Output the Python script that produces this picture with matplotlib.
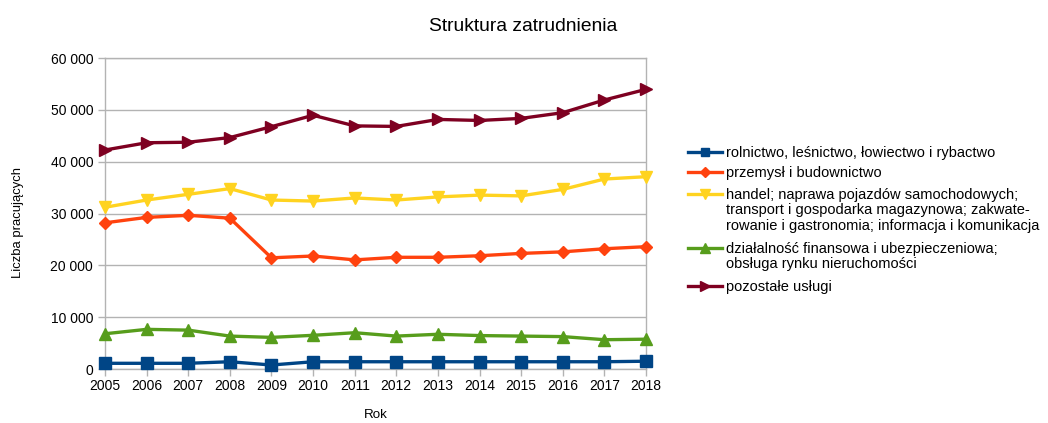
import matplotlib
matplotlib.use("Agg")
import matplotlib.pyplot as plt
from matplotlib.lines import Line2D
from matplotlib.ticker import FuncFormatter, MultipleLocator

plt.rcParams['font.family'] = ['Liberation Sans', 'DejaVu Sans']

years = [2005, 2006, 2007, 2008, 2009, 2010, 2011, 2012, 2013, 2014, 2015, 2016, 2017, 2018]

rolnictwo = [1100, 1100, 1100, 1400, 770, 1400, 1400, 1400, 1400, 1400, 1400, 1400, 1400, 1500]
przemysl = [28200, 29250, 29650, 29100, 21450, 21800, 21050, 21550, 21550, 21850, 22300, 22600, 23200, 23600]
handel = [31200, 32600, 33700, 34800, 32600, 32400, 33000, 32600, 33200, 33550, 33400, 34650, 36650, 37100]
finanse = [6800, 7650, 7500, 6350, 6100, 6500, 7000, 6350, 6700, 6450, 6350, 6250, 5650, 5750]
pozostale = [42250, 43650, 43750, 44650, 46750, 48950, 46900, 46800, 48150, 47950, 48350, 49450, 51900, 53950]

labels = [
    "rolnictwo, leśnictwo, łowiectwo i rybactwo",
    "przemysł i budownictwo",
    "handel; naprawa pojazdów samochodowych;\ntransport i gospodarka magazynowa; zakwate-\nrowanie i gastronomia; informacja i komunikacja",
    "działalność finansowa i ubezpieczeniowa;\nobsługa rynku nieruchomości",
    "pozostałe usługi",
]
series = [rolnictwo, przemysl, handel, finanse, pozostale]
colors = ["#004586", "#ff420e", "#ffd320", "#579d1c", "#7e0021"]
markers = ["s", "D", "v", "^", ">"]
msizes = [8, 6.5, 9, 9, 9]

W, H = 1048, 423
fig = plt.figure(figsize=(W / 100, H / 100), dpi=100)
ax = fig.add_axes([105 / W, 1 - 369 / H, (646 - 105) / W, (369 - 58) / H])

for vals, lab, c, m, ms in zip(series, labels, colors, markers, msizes):
    ax.plot(years, vals, color=c, marker=m, markersize=ms, linewidth=2.4,
            label=lab, clip_on=False, zorder=3)

ax.set_xlim(2005, 2018)
ax.set_ylim(0, 60000)
ax.set_xticks(years)
ax.yaxis.set_major_locator(MultipleLocator(10000))
ax.yaxis.set_major_formatter(FuncFormatter(lambda v, p: f"{int(v):,}".replace(",", " ")))
ax.grid(axis='y', color='#b3b3b3', linewidth=1)
ax.set_axisbelow(True)
for s in ax.spines.values():
    s.set_color('#b3b3b3')
    s.set_linewidth(1)
ax.tick_params(axis='both', colors='#b3b3b3', labelcolor='black', labelsize=10,
               length=5, width=1)
ax.tick_params(axis='x', pad=2)

fig.text(523 / W, 1 - 31 / H, "Struktura zatrudnienia", ha='center', va='baseline', fontsize=13.9)
fig.text(18 / W, 1 - 222 / H, "Liczba pracujących", rotation=90,
         ha='center', va='center', fontsize=9.4)
fig.text(375.5 / W, 1 - 415 / H, "Rok", ha='center', va='center', fontsize=9.6)

# legend drawn by hand so each key sits on the first line of its label
key_rows = [152, 172.5, 194, 248, 286]
for row, lab, c, m, ms in zip(key_rows, labels, colors, markers, msizes):
    yf = 1 - row / H
    fig.add_artist(Line2D([688 / W, 722 / W], [yf, yf], transform=fig.transFigure,
                          color=c, linewidth=2.4))
    fig.add_artist(Line2D([705 / W], [yf], transform=fig.transFigure, color=c,
                          marker=m, markersize=ms * 0.75, linestyle='none'))
    fig.text(726 / W, 1 - (row - 6.5) / H, lab, ha='left', va='top',
             fontsize=10.5, linespacing=1.15)

fig.savefig("out.png", dpi=100)
